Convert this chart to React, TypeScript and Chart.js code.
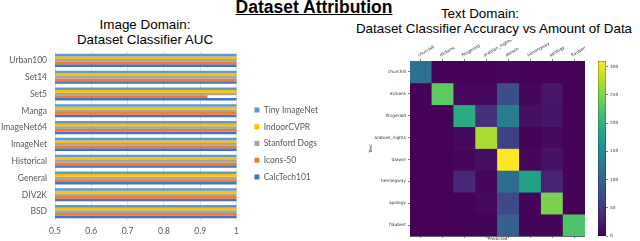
import React, { useEffect, useRef } from 'react';
import { Chart, registerables } from 'chart.js';

Chart.register(...registerables);

// ---------- Left chart data (Image Domain AUC) ----------
const imageCategories = ['Urban100', 'Set14', 'Set5', 'Manga', 'ImageNet64', 'ImageNet', 'Historical', 'General', 'DIV2K', 'BSD'];
const tinyImageNet = [1, 1, 1, 1, 1, 1, 1, 1, 1, 1];
const indoorCVPR = [1, 1, 1, 1, 1, 1, 1, 1, 1, 1];
const stanfordDogs = [1, 1, 1, 1, 1, 1, 1, 1, 1, 1];
const icons50 = [1, 1, 0.92, 1, 1, 1, 1, 1, 1, 1];
const calcTech101 = [1, 1, 1, 1, 1, 1, 1, 1, 1, 1];
const aucTicks = [0.5, 0.6, 0.7, 0.8, 0.9, 1];

// ---------- Right chart data (Text Domain confusion matrix) ----------
const textLabels = ['churchill', 'dickens', 'fitzgerald', 'arabian_nights', 'darwin', 'hemingway', 'apology', 'flaubert'];
const rowChurchill = [115, 2, 2, 2, 5, 2, 2, 2];
const rowDickens = [2, 232, 8, 8, 75, 5, 20, 2];
const rowFitzgerald = [2, 2, 192, 43, 130, 12, 18, 2];
const rowArabianNights = [2, 2, 8, 270, 58, 3, 8, 2];
const rowDarwin = [2, 2, 5, 12, 310, 5, 15, 2];
const rowHemingway = [2, 2, 35, 5, 110, 177, 30, 2];
const rowApology = [2, 2, 3, 8, 68, 3, 248, 2];
const rowFlaubert = [2, 2, 2, 3, 93, 3, 3, 223];
const matrixRows = [rowChurchill, rowDickens, rowFitzgerald, rowArabianNights, rowDarwin, rowHemingway, rowApology, rowFlaubert];
const colorbarTicks = [0, 50, 100, 150, 200, 250, 300];
const colorMax = 310;

// viridis colormap stops
const VIRIDIS = ['#440154', '#482475', '#414487', '#355f8d', '#2a788e', '#21918c', '#22a884', '#44bf70', '#7ad151', '#bddf26', '#fde725'];

function hexToRgb(h: string) {
  return [parseInt(h.slice(1, 3), 16), parseInt(h.slice(3, 5), 16), parseInt(h.slice(5, 7), 16)];
}
function viridis(t: number) {
  const x = Math.max(0, Math.min(1, t)) * (VIRIDIS.length - 1);
  const i = Math.min(VIRIDIS.length - 2, Math.floor(x));
  const f = x - i;
  const a = hexToRgb(VIRIDIS[i]);
  const b = hexToRgb(VIRIDIS[i + 1]);
  const c = a.map((v, k) => Math.round(v + (b[k] - v) * f));
  return `rgb(${c[0]},${c[1]},${c[2]})`;
}

const EXCEL_FONT = 'Lato, "Open Sans", sans-serif';
const MPL_FONT = '"DejaVu Sans", sans-serif';

function zeroPad(s: any) {
  s.paddingLeft = 0;
  s.paddingRight = 0;
  s.paddingTop = 0;
  s.paddingBottom = 0;
}

function ImageChart() {
  const ref = useRef<HTMLCanvasElement>(null);
  useEffect(() => {
    const font = { family: EXCEL_FONT, size: 8.5 };
    const chart = new Chart(ref.current!, {
      type: 'bar',
      data: {
        labels: imageCategories,
        datasets: [
          { label: 'Tiny ImageNet', data: tinyImageNet, backgroundColor: '#5B9BD5' },
          { label: 'IndoorCVPR', data: indoorCVPR, backgroundColor: '#FFC000' },
          { label: 'Stanford Dogs', data: stanfordDogs, backgroundColor: '#A5A5A5' },
          { label: 'Icons-50', data: icons50, backgroundColor: '#ED7D31' },
          { label: 'CalcTech101', data: calcTech101, backgroundColor: '#4472C4' },
        ],
      },
      options: {
        indexAxis: 'y',
        animation: false,
        responsive: false,
        maintainAspectRatio: false,
        layout: { padding: { left: 0, right: 0, top: 1, bottom: 0 } },
        datasets: { bar: { categoryPercentage: 0.78, barPercentage: 1, borderWidth: 0 } },
        scales: {
          x: {
            min: aucTicks[0],
            // small empty margin past 1.0 separates the plot from the legend
            max: 1.0268,
            afterBuildTicks: (axis: any) => { axis.ticks = aucTicks.map((v) => ({ value: v })); },
            ticks: {
              color: '#595959',
              font,
              padding: 6,
              callback: (v: any) => String(Math.round(Number(v) * 10) / 10),
            },
            grid: { color: '#d9d9d9', lineWidth: 0.8, drawTicks: false },
            border: { display: false },
            afterFit: (s: any) => { s.height = 21; zeroPad(s); },
          },
          xt: {
            type: 'linear',
            position: 'top',
            min: 0,
            max: 1,
            grid: { display: false, drawTicks: false },
            border: { display: false },
            ticks: { display: false },
            afterFit: (s: any) => { s.height = 6; zeroPad(s); },
          },
          y: {
            grid: { display: false, drawTicks: false },
            border: { display: false },
            ticks: { color: '#595959', font, padding: 8 },
            afterFit: (s: any) => { s.width = 55; zeroPad(s); },
          },
        },
        plugins: {
          legend: {
            position: 'right',
            fullSize: true,
            labels: { boxWidth: 5, boxHeight: 5, color: '#595959', font, padding: 8.2 },
          },
          tooltip: { enabled: false },
        },
      } as any,
    });
    return () => chart.destroy();
  }, []);
  return <canvas ref={ref} width={328} height={196} style={{ position: 'absolute', left: 0, top: 45, width: 328, height: 196 }} />;
}

function MatrixChart() {
  const ref = useRef<HTMLCanvasElement>(null);
  useEffect(() => {
    const font = { family: MPL_FONT, size: 4.3 };
    const chart = new Chart(ref.current!, {
      type: 'bar',
      data: {
        labels: textLabels,
        datasets: matrixRows.map((row, r) => ({
          label: textLabels[r],
          data: textLabels.map(() => [r, r + 1]),
          backgroundColor: row.map((v) => viridis(v / colorMax)),
          grouped: false,
          categoryPercentage: 1,
          barPercentage: 1,
          borderWidth: 0,
          xAxisID: 'x',
          yAxisID: 'y',
        })),
      },
      options: {
        animation: false,
        responsive: false,
        maintainAspectRatio: false,
        layout: { padding: 0 },
        scales: {
          x: {
            position: 'top',
            ticks: { minRotation: 30, maxRotation: 30, font, color: '#333', padding: 1 },
            grid: { drawOnChartArea: false, offset: false, tickLength: 2, color: '#000', lineWidth: 0.5 },
            border: { display: true, color: '#000', width: 0.6 },
            afterFit: (s: any) => { s.height = 21; zeroPad(s); },
          },
          xb: {
            type: 'category',
            labels: textLabels,
            position: 'bottom',
            ticks: { callback: () => '', font, padding: 0 },
            grid: { drawOnChartArea: false, offset: false, tickLength: 2, color: '#000', lineWidth: 0.5 },
            border: { display: true, color: '#000', width: 0.6 },
            title: { display: true, text: 'Predicted', font, color: '#333', padding: 0 },
            afterFit: (s: any) => { s.height = 5; zeroPad(s); },
          },
          y: {
            type: 'linear',
            min: 0,
            max: textLabels.length,
            reverse: true,
            afterBuildTicks: (axis: any) => { axis.ticks = textLabels.map((_, i) => ({ value: i + 0.5 })); },
            ticks: { callback: (v: any) => textLabels[Math.floor(Number(v))], font, color: '#333', padding: 2 },
            grid: { drawOnChartArea: false, tickLength: 2, color: '#000', lineWidth: 0.5 },
            border: { display: true, color: '#000', width: 0.6 },
            title: { display: true, text: 'Text', font, color: '#333', padding: { top: 28 } },
            afterFit: (s: any) => { s.width = 70; zeroPad(s); },
          },
          yr: {
            type: 'linear',
            position: 'right',
            min: 0,
            max: textLabels.length,
            ticks: { display: false },
            grid: { drawOnChartArea: false, drawTicks: false },
            border: { display: true, color: '#000', width: 0.6 },
            afterFit: (s: any) => { s.width = 0; zeroPad(s); },
          },
        },
        plugins: { legend: { display: false }, tooltip: { enabled: false } },
      } as any,
    });
    return () => chart.destroy();
  }, []);
  return <canvas ref={ref} width={245} height={201} style={{ position: 'absolute', left: 340, top: 40, width: 245, height: 201 }} />;
}

function ColorbarChart() {
  const ref = useRef<HTMLCanvasElement>(null);
  useEffect(() => {
    const font = { family: MPL_FONT, size: 4.3 };
    const chart = new Chart(ref.current!, {
      type: 'bar',
      data: {
        labels: [''],
        datasets: [
          {
            data: [colorMax],
            backgroundColor: (ctx: any) => {
              const ch = ctx.chart;
              const a = ch.chartArea;
              if (!a) return viridis(0.5);
              const g = ch.ctx.createLinearGradient(0, a.bottom, 0, a.top);
              VIRIDIS.forEach((c, i) => g.addColorStop(i / (VIRIDIS.length - 1), c));
              return g;
            },
            borderColor: '#000',
            borderWidth: 0.6,
            borderSkipped: false,
            categoryPercentage: 1,
            barPercentage: 1,
          },
        ],
      },
      options: {
        animation: false,
        responsive: false,
        maintainAspectRatio: false,
        layout: { padding: { left: 8, top: 21, bottom: 5, right: 0 } },
        scales: {
          x: { display: false },
          y: {
            position: 'right',
            min: 0,
            max: colorMax,
            afterBuildTicks: (axis: any) => { axis.ticks = colorbarTicks.map((v) => ({ value: v })); },
            ticks: { font, color: '#333', padding: 2 },
            grid: { drawOnChartArea: false, tickLength: 2, color: '#000', lineWidth: 0.5 },
            border: { display: false },
            afterFit: (s: any) => { s.width = 34; zeroPad(s); },
          },
        },
        plugins: { legend: { display: false }, tooltip: { enabled: false } },
      } as any,
    });
    return () => chart.destroy();
  }, []);
  return <canvas ref={ref} width={50} height={201} style={{ position: 'absolute', left: 590, top: 40, width: 50, height: 201 }} />;
}

const titleFont = '"Liberation Sans", Arial, sans-serif';

export default function App() {
  useEffect(() => {
    document.body.style.margin = '0';
  }, []);
  const lineStyle = (left: number, width: number, top: number): React.CSSProperties => ({
    position: 'absolute',
    left,
    width,
    top,
    textAlign: 'center',
    fontFamily: titleFont,
    fontSize: 13.4,
    lineHeight: '15px',
    color: '#000',
    whiteSpace: 'nowrap',
  });
  return (
    <div style={{ position: 'relative', width: 640, height: 241, overflow: 'hidden', background: '#fff' }}>
      <div
        style={{
          position: 'absolute',
          left: 0,
          width: 628,
          top: -2,
          textAlign: 'center',
          fontFamily: titleFont,
          fontWeight: 'bold',
          fontSize: 17.5,
          lineHeight: '18px',
          textDecoration: 'underline',
          color: '#000',
        }}
      >
        Dataset Attribution
      </div>
      <div style={lineStyle(0, 290, 17)}>Image Domain:</div>
      <div style={lineStyle(0, 290, 32)}>Dataset Classifier AUC</div>
      <div style={lineStyle(380, 200, 6)}>Text Domain:</div>
      <div style={lineStyle(344, 300, 21)}>Dataset Classifier Accuracy vs Amount of Data</div>
      <ImageChart />
      <MatrixChart />
      <ColorbarChart />
    </div>
  );
}
